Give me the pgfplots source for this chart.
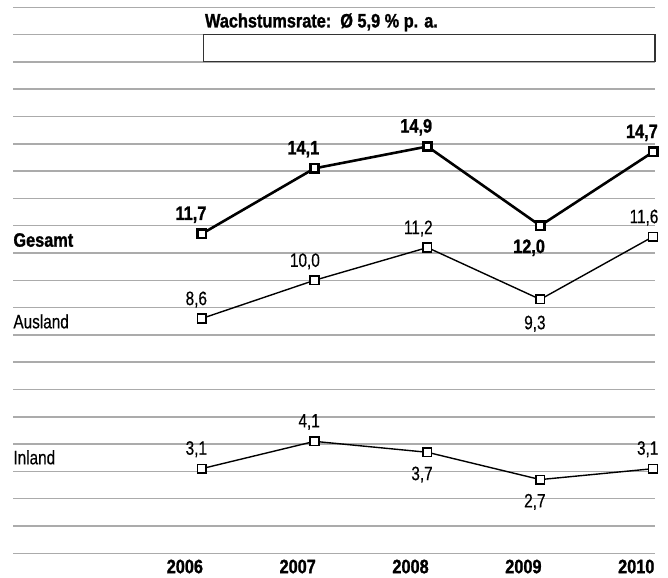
\documentclass[border=0pt]{standalone}
\usepackage{pgfplots}
\usepackage{pgfplotstable}
\pgfplotsset{compat=1.18}
\usepackage{fontspec}
\setmainfont{Liberation Sans}[UprightFeatures={FakeStretch=0.79,FakeBold=0.4},BoldFeatures={FakeStretch=0.84,FakeBold=1.2}]

\pgfplotstableread{
x y dy label
0 11.7 14 11,7
1 14.1 14 14,1
2 14.9 14 14,9
3 12.0 -27.5 12,0
4 14.7 14 14,7
}\gesamt
\pgfplotstableread{
x y dy label
0 8.6 13.5 8,6
1 10.0 13.5 10,0
2 11.2 13.5 11,2
3 9.3 -30 9,3
4 11.6 13.5 11,6
}\ausland
\pgfplotstableread{
x y dy label
0 3.1 14 3,1
1 4.1 14 4,1
2 3.7 -28 3,7
3 2.7 -28 2,7
4 3.1 14 3,1
}\inland

\begin{document}
\fontsize{19.5bp}{23bp}\selectfont
\begin{tikzpicture}
\begin{axis}[
  scale only axis, width=645bp, height=548.7bp,
  xmin=-1.671, xmax=4.017, ymin=0, ymax=20,
  axis line style={draw=none},
  major tick length=0pt,
  ytick={0,1,...,20}, yticklabels={},
  ymajorgrids, grid style={line width=1.5bp, color=black!33},
  xtick={0,1,2,3,4}, xticklabels={2006,2007,2008,2009,2010},
  xticklabel style={font=\bfseries, anchor=base east, inner sep=0pt, xshift=1.5bp, yshift=-20bp},
  clip=false,
  nodes near coords, point meta=explicit symbolic,
  visualization depends on={\thisrow{dy}\as\dy},
  every node near coord/.append style={anchor=base east, inner sep=0pt, xshift=6bp, yshift=\dy bp, text=black},
]
\path (axis cs:-1.759,-0.875) rectangle (axis cs:4.132,20.266);
\draw[color=black!80, line width=1.2bp] (axis cs:0.013,18) rectangle (axis cs:4.017,19);
\node[anchor=base west, inner sep=0pt, font=\bfseries] at (axis cs:0.028,19.26) {Wachstumsrate:\ \ Ø 5,9 \% p. a.};
\node[anchor=base west, inner sep=0pt, font=\bfseries] at (axis cs:-1.67,11.23) {Gesamt};
\node[anchor=base west, inner sep=0pt] at (axis cs:-1.67,8.24) {Ausland};
\node[anchor=base west, inner sep=0pt] at (axis cs:-1.67,3.26) {Inland};

\addplot[black, line width=1.4bp, mark=square*, mark size=4.4bp, mark options={fill=white, solid}]
  table[x=x, y=y, meta=label] {\ausland};
\addplot[black, line width=1.4bp, mark=square*, mark size=4.4bp, mark options={fill=white, solid}]
  table[x=x, y=y, meta=label] {\inland};
\addplot[black, line width=2.6bp, mark=square*, mark size=4.2bp, mark options={fill=white, solid},
  every node near coord/.append style={font=\bfseries}]
  table[x=x, y=y, meta=label] {\gesamt};
\end{axis}
\end{tikzpicture}
\end{document}
